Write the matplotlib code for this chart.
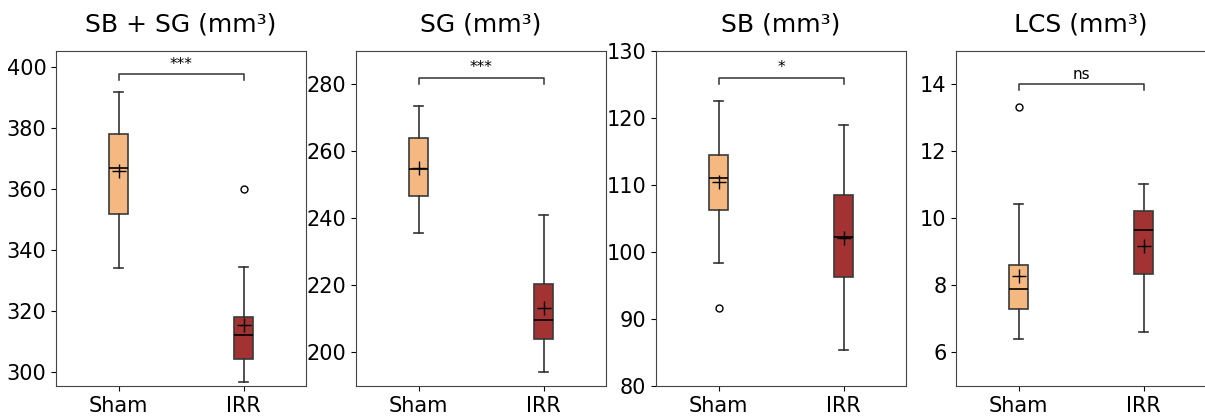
import matplotlib
matplotlib.use("Agg")
import matplotlib.pyplot as plt

groups = ["Sham", "IRR"]
titles = ["SB + SG (mm³)", "SG (mm³)", "SB (mm³)", "LCS (mm³)"]
ylims = [(295.3, 405.2), (190, 290), (80, 130), (5, 15)]
yticks = [[300, 320, 340, 360, 380, 400], [200, 220, 240, 260, 280],
          [80, 90, 100, 110, 120, 130], [6, 8, 10, 12, 14]]

# per panel: [Sham, IRR] stats: (whislo, q1, med, q3, whishi, mean, fliers)
sham_stats = [
    (334.0, 351.7, 366.7, 377.9, 391.8, 365.8, []),
    (235.7, 246.7, 254.7, 263.9, 273.6, 255.0, []),
    (98.3, 106.2, 111.0, 114.45, 122.45, 110.4, [91.7]),
    (6.40, 7.31, 7.88, 8.61, 10.42, 8.27, [13.31]),
]
irr_stats = [
    (296.7, 304.1, 312.1, 318.0, 334.3, 315.3, [359.9]),
    (194.3, 204.1, 209.7, 220.5, 240.9, 213.3, []),
    (85.3, 96.25, 102.2, 108.5, 118.9, 102.0, []),
    (6.60, 8.33, 9.65, 10.22, 11.04, 9.17, []),
]
signif = ["***", "***", "*", "ns"]
bracket_y = [397.5, 282.0, 126.0, 14.0]

colors = ["#F5B880", "#A33232"]

fig = plt.figure(figsize=(12.05, 4.17), dpi=100)
for i in range(4):
    ax = fig.add_axes([0.0465 + i * 0.249, 0.0743, 0.2075, 0.804])
    stats = []
    for s, g in zip([sham_stats[i], irr_stats[i]], groups):
        wl, q1, med, q3, wh, mean, fl = s
        stats.append(dict(whislo=wl, q1=q1, med=med, q3=q3, whishi=wh,
                          mean=mean, fliers=fl, label=g))
    bp = ax.bxp(stats, positions=[1, 2], widths=0.15, patch_artist=True,
                showmeans=True,
                meanprops=dict(marker="+", markersize=10, markeredgecolor="black",
                               markeredgewidth=1.0),
                medianprops=dict(color="black", linewidth=1.2),
                whiskerprops=dict(color="#333333", linewidth=1.2),
                capprops=dict(color="#333333", linewidth=1.2),
                boxprops=dict(edgecolor="#3a3a3a", linewidth=1.2),
                flierprops=dict(marker="o", markerfacecolor="none",
                                markeredgecolor="black", markersize=5,
                                markeredgewidth=1.0))
    for patch, c in zip(bp["boxes"], colors):
        patch.set_facecolor(c)
    ax.set_xlim(0.5, 2.5)
    ax.set_ylim(*ylims[i])
    ax.set_yticks(yticks[i])
    ax.tick_params(labelsize=15)
    ax.set_title(titles[i], fontsize=18, pad=14)
    for sp in ax.spines.values():
        sp.set_color("#444444")
    rng = ylims[i][1] - ylims[i][0]
    y = bracket_y[i]
    h = 0.018 * rng
    ax.plot([1, 1, 2, 2], [y - h, y, y, y - h], color="#333333", linewidth=1.1)
    ax.text(1.5, y + 0.008 * rng, signif[i], ha="center", va="bottom", fontsize=11)

fig.savefig("out.png", dpi=100)
